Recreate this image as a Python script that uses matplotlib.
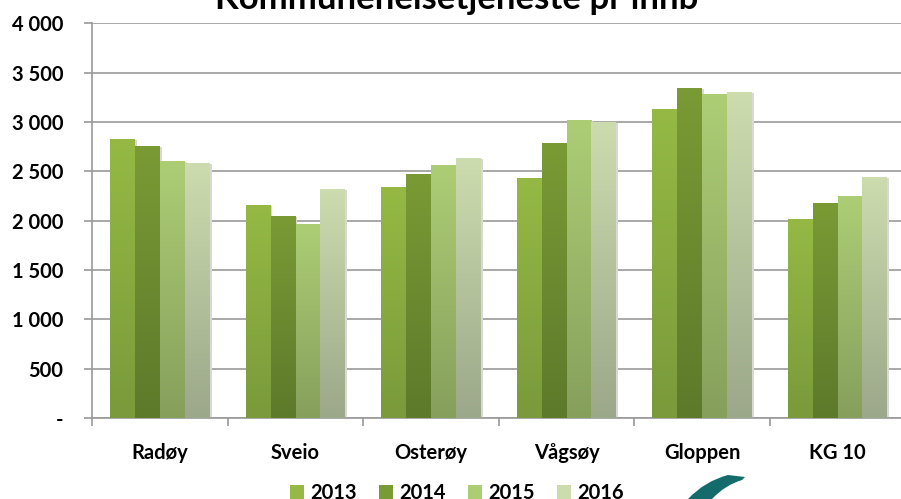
import numpy as np
import matplotlib
matplotlib.use("Agg")
import matplotlib.pyplot as plt
from matplotlib.colors import LinearSegmentedColormap
from matplotlib.patches import Patch, PathPatch
from matplotlib.path import Path

# Data
kommuner = ["Radøy", "Sveio", "Osterøy", "Vågsøy", "Gloppen", "KG 10"]
years = ["2013", "2014", "2015", "2016"]
v2013 = [2825, 2157, 2339, 2430, 3129, 2015]
v2014 = [2754, 2046, 2471, 2785, 3342, 2177]
v2015 = [2603, 1965, 2562, 3018, 3281, 2248]
v2016 = [2582, 2319, 2633, 2997, 3301, 2441]
series = [v2013, v2014, v2015, v2016]
yticks = [0, 500, 1000, 1500, 2000, 2500, 3000, 3500, 4000]

# farger (topp, bunn) for gradient
top_cols = ["#95b944", "#7a9a35", "#adcd75", "#ccdcae"]
bot_cols = ["#7a9a3b", "#5d7a2b", "#86a05c", "#9ca88a"]

plt.rcParams['font.family'] = ['Lato', 'DejaVu Sans']
plt.rcParams['font.weight'] = 'bold'

fig = plt.figure(figsize=(9.01, 4.99), dpi=100)
ax = fig.add_axes([92.3 / 901, 81 / 499, 813 / 901, 394.7 / 499])

x = np.arange(len(kommuner))
w = 0.184
for i, vals in enumerate(series):
    cmap = LinearSegmentedColormap.from_list("g%d" % i, [bot_cols[i], top_cols[i]])
    grad = np.linspace(0, 1, 100).reshape(-1, 1)
    for xi, v in zip(x, vals):
        x0 = xi + (i - 1.5) * w - w / 2
        # lett skygge
        ax.bar(x0 + w / 2 + 0.012, v - 8, width=w, bottom=0, color="#d8d8d8",
               zorder=2, linewidth=0)
        ax.imshow(grad, cmap=cmap, origin="lower", aspect="auto",
                  extent=[x0, x0 + w, 0, v], zorder=3, interpolation="bilinear")

ax.set_xlim(-0.5, len(kommuner) - 0.5)
ax.set_ylim(0, 4000)

ax.set_yticks(yticks)
ax.set_yticklabels(["-" if t == 0 else f"{t:,}".replace(",", " ") for t in yticks])
ax.set_xticks(x)
ax.set_xticklabels(kommuner)
ax.set_xticks(np.arange(-0.5, len(kommuner)), minor=True)

ax.yaxis.grid(True, color="#9a9a9a", linewidth=1.2, zorder=0)
ax.set_axisbelow(True)
for s in ["top", "right"]:
    ax.spines[s].set_visible(False)
ax.spines["left"].set_color("#9a9a9a")
ax.spines["bottom"].set_color("#9a9a9a")
ax.spines["left"].set_linewidth(1.2)
ax.spines["bottom"].set_linewidth(1.2)

ax.tick_params(axis="y", length=6, width=1.2, color="#9a9a9a", pad=15,
               labelsize=14.5)
ax.tick_params(axis="x", which="major", length=0, pad=18, labelsize=14.5)
ax.tick_params(axis="x", which="minor", length=6, width=1.2, color="#9a9a9a")
for lab in ax.get_xticklabels() + ax.get_yticklabels():
    lab.set_fontweight("bold")

# Tittel (kuttet i toppen)
fig.text(0.507, 1 - 9 / 499, "Kommunehelsetjeneste pr innb", ha="center",
         va="baseline", fontsize=25, fontweight="bold")

handles = [Patch(facecolor=top_cols[i], edgecolor="none") for i in range(4)]
fig.legend(handles, years, loc="center", bbox_to_anchor=(0.507, 1 - 493 / 499),
           ncol=4, frameon=False, fontsize=14.5, handlelength=0.7,
           handleheight=0.7, handletextpad=0.3, columnspacing=1.1,
           prop={"weight": "bold", "size": 14.5})

# logo-form nede til høyre
verts = [(688 / 901, 0.0), (705 / 901, 18 / 499), (728 / 901, 24 / 499),
         (745 / 901, 22 / 499), (742 / 901, 19 / 499), (725 / 901, 14 / 499),
         (712 / 901, 0.0), (688 / 901, 0.0)]
codes = [Path.MOVETO, Path.CURVE3, Path.CURVE3, Path.LINETO, Path.LINETO,
         Path.CURVE3, Path.CURVE3, Path.CLOSEPOLY]
fig.patches.append(PathPatch(Path(verts, codes), facecolor="#136b6b",
                             edgecolor="none", transform=fig.transFigure))

fig.savefig("out.png", dpi=100)
